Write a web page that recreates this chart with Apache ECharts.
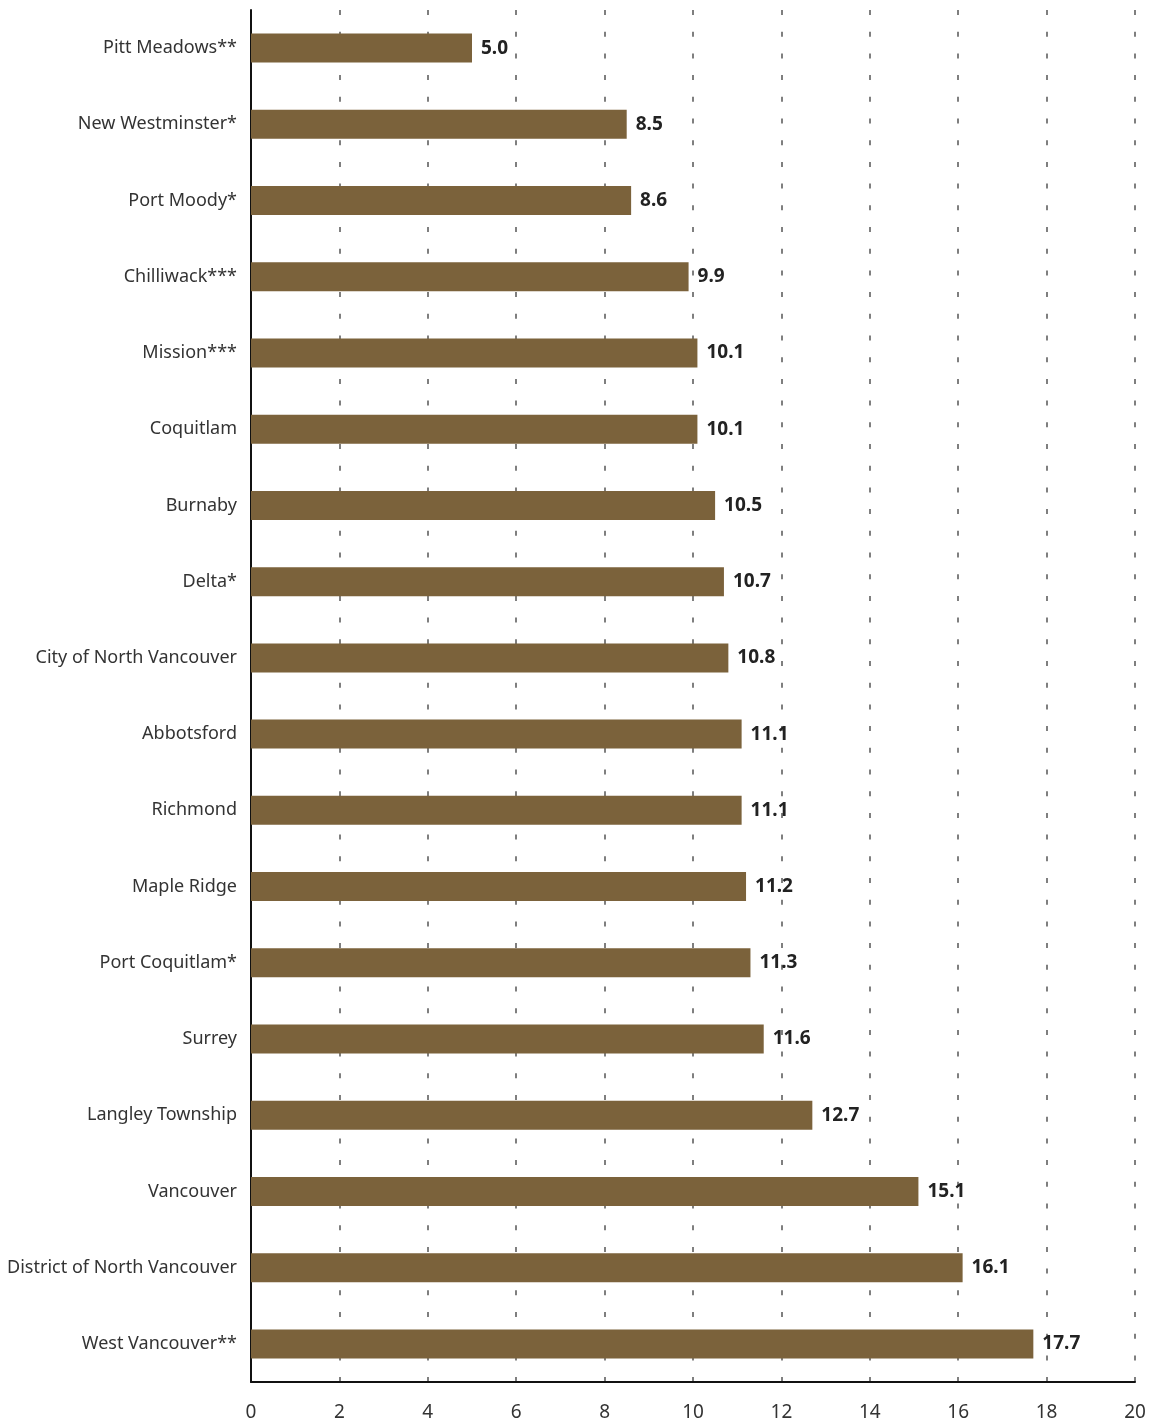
<!DOCTYPE html>
<html>
<head>
<meta charset="utf-8">
<script src="https://cdn.jsdelivr.net/npm/echarts@6/dist/echarts.min.js"></script>
<style>
  html, body { margin: 0; padding: 0; background: #ffffff; }
  #chart { width: 1153px; height: 1425px; }
</style>
</head>
<body>
<div id="chart"></div>
<script>
// Municipalities, top to bottom
const municipalities = [
  'Pitt Meadows**', 'New Westminster*', 'Port Moody*', 'Chilliwack***',
  'Mission***', 'Coquitlam', 'Burnaby', 'Delta*', 'City of North Vancouver',
  'Abbotsford', 'Richmond', 'Maple Ridge', 'Port Coquitlam*', 'Surrey',
  'Langley Township', 'Vancouver', 'District of North Vancouver', 'West Vancouver**'
];
// Value for each municipality
const values = [
  5.0, 8.5, 8.6, 9.9, 10.1, 10.1, 10.5, 10.7, 10.8,
  11.1, 11.1, 11.2, 11.3, 11.6, 12.7, 15.1, 16.1, 17.7
];
// Value axis range and step
const axisMin = 0;
const axisMax = 20;
const axisStep = 2;

const chart = echarts.init(document.getElementById('chart'), null, { renderer: 'canvas' });

chart.setOption({
  animation: false,
  backgroundColor: '#ffffff',
  grid: { left: 251, right: 18, top: 10, bottom: 43, containLabel: false },
  xAxis: {
    type: 'value',
    min: axisMin,
    max: axisMax,
    interval: axisStep,
    axisLine: { show: true, lineStyle: { color: '#111111', width: 2 } },
    axisTick: { show: false },
    axisLabel: {
      color: '#333333',
      fontFamily: 'Noto Sans',
      fontSize: 19,
      margin: 21
    },
    splitLine: {
      show: true,
      lineStyle: { color: '#555555', width: 1.5, type: [5, 16.7] }
    }
  },
  yAxis: {
    type: 'category',
    data: municipalities,
    inverse: true,
    axisLine: { show: true, lineStyle: { color: '#111111', width: 2 } },
    axisTick: { show: false },
    splitLine: { show: false },
    axisLabel: {
      color: '#333333',
      fontFamily: 'Noto Sans',
      fontSize: 18,
      margin: 14,
      padding: [3, 0, 0, 0]
    }
  },
  series: [{
    type: 'bar',
    data: values,
    barWidth: 29,
    itemStyle: { color: '#7b623b' },
    label: {
      show: true,
      position: 'right',
      distance: 9,
      formatter: p => p.value.toFixed(1),
      color: '#222222',
      fontFamily: 'Noto Sans',
      fontWeight: 'bold',
      fontSize: 19
    }
  }]
});
</script>
</body>
</html>
